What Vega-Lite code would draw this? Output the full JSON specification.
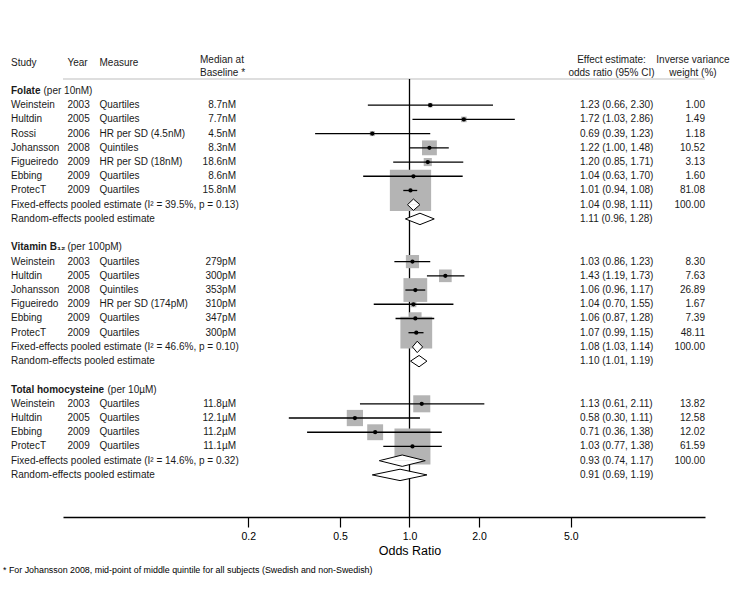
{
  "$schema": "https://vega.github.io/schema/vega-lite/v6.json",
  "width": 642,
  "height": 438,
  "autosize": {"type": "none"},
  "padding": {"left": 63, "top": 79, "right": 51, "bottom": 74},
  "background": "white",
  "config": {
    "view": {"stroke": null},
    "text": {"font": "Liberation Sans", "fontSize": 10, "color": "#1a1a1a", "baseline": "middle"}
  },
  "resolve": {"scale": {"y": "independent"}},
  "datasets": {
    "rows": [
      {"row": 0, "kind": "group", "study": "Folate", "unit": "(per 10nM)", "grp": "F"},
      {"row": 1, "kind": "study", "study": "Weinstein", "year": "2003", "measure": "Quartiles", "median": "8.7nM", "est": 1.23, "lci": 0.66, "uci": 2.30, "effect": "1.23 (0.66, 2.30)", "w": 1.00},
      {"row": 2, "kind": "study", "study": "Hultdin", "year": "2005", "measure": "Quartiles", "median": "7.7nM", "est": 1.72, "lci": 1.03, "uci": 2.86, "effect": "1.72 (1.03, 2.86)", "w": 1.49},
      {"row": 3, "kind": "study", "study": "Rossi", "year": "2006", "measure": "HR per SD (4.5nM)", "median": "4.5nM", "est": 0.69, "lci": 0.39, "uci": 1.23, "effect": "0.69 (0.39, 1.23)", "w": 1.18},
      {"row": 4, "kind": "study", "study": "Johansson", "year": "2008", "measure": "Quintiles", "median": "8.3nM", "est": 1.22, "lci": 1.00, "uci": 1.48, "effect": "1.22 (1.00, 1.48)", "w": 10.52},
      {"row": 5, "kind": "study", "study": "Figueiredo", "year": "2009", "measure": "HR per SD (18nM)", "median": "18.6nM", "est": 1.20, "lci": 0.85, "uci": 1.71, "effect": "1.20 (0.85, 1.71)", "w": 3.13},
      {"row": 6, "kind": "study", "study": "Ebbing", "year": "2009", "measure": "Quartiles", "median": "8.6nM", "est": 1.04, "lci": 0.63, "uci": 1.70, "effect": "1.04 (0.63, 1.70)", "w": 1.60},
      {"row": 7, "kind": "study", "study": "ProtecT", "year": "2009", "measure": "Quartiles", "median": "15.8nM", "est": 1.01, "lci": 0.94, "uci": 1.08, "effect": "1.01 (0.94, 1.08)", "w": 81.08},
      {"row": 8, "kind": "fixed", "study": "Fixed-effects pooled estimate (I² = 39.5%, p = 0.13)", "est": 1.04, "lci": 0.98, "uci": 1.11, "effect": "1.04 (0.98, 1.11)", "w": 100.00},
      {"row": 9, "kind": "random", "study": "Random-effects pooled estimate", "est": 1.11, "lci": 0.96, "uci": 1.28, "effect": "1.11 (0.96, 1.28)"},
      {"row": 11, "kind": "group", "study": "Vitamin B₁₂", "unit": "(per 100pM)", "grp": "B"},
      {"row": 12, "kind": "study", "study": "Weinstein", "year": "2003", "measure": "Quartiles", "median": "279pM", "est": 1.03, "lci": 0.86, "uci": 1.23, "effect": "1.03 (0.86, 1.23)", "w": 8.30},
      {"row": 13, "kind": "study", "study": "Hultdin", "year": "2005", "measure": "Quartiles", "median": "300pM", "est": 1.43, "lci": 1.19, "uci": 1.73, "effect": "1.43 (1.19, 1.73)", "w": 7.63},
      {"row": 14, "kind": "study", "study": "Johansson", "year": "2008", "measure": "Quintiles", "median": "353pM", "est": 1.06, "lci": 0.96, "uci": 1.17, "effect": "1.06 (0.96, 1.17)", "w": 26.89},
      {"row": 15, "kind": "study", "study": "Figueiredo", "year": "2009", "measure": "HR per SD (174pM)", "median": "310pM", "est": 1.04, "lci": 0.70, "uci": 1.55, "effect": "1.04 (0.70, 1.55)", "w": 1.67},
      {"row": 16, "kind": "study", "study": "Ebbing", "year": "2009", "measure": "Quartiles", "median": "347pM", "est": 1.06, "lci": 0.87, "uci": 1.28, "effect": "1.06 (0.87, 1.28)", "w": 7.39},
      {"row": 17, "kind": "study", "study": "ProtecT", "year": "2009", "measure": "Quartiles", "median": "300pM", "est": 1.07, "lci": 0.99, "uci": 1.15, "effect": "1.07 (0.99, 1.15)", "w": 48.11},
      {"row": 18, "kind": "fixed", "study": "Fixed-effects pooled estimate (I² = 46.6%, p = 0.10)", "est": 1.08, "lci": 1.03, "uci": 1.14, "effect": "1.08 (1.03, 1.14)", "w": 100.00},
      {"row": 19, "kind": "random", "study": "Random-effects pooled estimate", "est": 1.10, "lci": 1.01, "uci": 1.19, "effect": "1.10 (1.01, 1.19)"},
      {"row": 21, "kind": "group", "study": "Total homocysteine", "unit": "(per 10µM)", "grp": "T"},
      {"row": 22, "kind": "study", "study": "Weinstein", "year": "2003", "measure": "Quartiles", "median": "11.8µM", "est": 1.13, "lci": 0.61, "uci": 2.11, "effect": "1.13 (0.61, 2.11)", "w": 13.82},
      {"row": 23, "kind": "study", "study": "Hultdin", "year": "2005", "measure": "Quartiles", "median": "12.1µM", "est": 0.58, "lci": 0.30, "uci": 1.11, "effect": "0.58 (0.30, 1.11)", "w": 12.58},
      {"row": 24, "kind": "study", "study": "Ebbing", "year": "2009", "measure": "Quartiles", "median": "11.2µM", "est": 0.71, "lci": 0.36, "uci": 1.38, "effect": "0.71 (0.36, 1.38)", "w": 12.02},
      {"row": 25, "kind": "study", "study": "ProtecT", "year": "2009", "measure": "Quartiles", "median": "11.1µM", "est": 1.03, "lci": 0.77, "uci": 1.38, "effect": "1.03 (0.77, 1.38)", "w": 61.59},
      {"row": 26, "kind": "fixed", "study": "Fixed-effects pooled estimate (I² = 14.6%, p = 0.32)", "est": 0.93, "lci": 0.74, "uci": 1.17, "effect": "0.93 (0.74, 1.17)", "w": 100.00},
      {"row": 27, "kind": "random", "study": "Random-effects pooled estimate", "est": 0.91, "lci": 0.69, "uci": 1.19, "effect": "0.91 (0.69, 1.19)"}
    ],
    "vmap": [
      {"key": "lci", "up": "side", "down": "side"},
      {"key": "est", "up": "top", "down": "bottom"},
      {"key": "uci", "up": "side", "down": "side"}
    ]
  },
  "data": {"name": "rows"},
  "layer": [
    {
      "data": {"values": [{}]},
      "mark": {"type": "rule", "color": "#bdbdbd", "strokeWidth": 1},
      "encoding": {
        "y": {"datum": -0.84, "scale": {"domain": [-0.84, 29.96], "reverse": true, "nice": false, "zero": false}, "axis": null}
      }
    },
    {
      "data": {"values": [{}]},
      "mark": {"type": "rule", "color": "black", "strokeWidth": 1.3},
      "encoding": {
        "x": {"datum": 1, "scale": {"type": "log", "domain": [0.03153, 19.07], "nice": false}}
      }
    },
    {
      "transform": [{"filter": "datum.kind == 'study'"}],
      "mark": {"type": "square", "color": "#b4b4b4", "opacity": 1, "filled": true},
      "encoding": {
        "x": {"field": "est", "type": "quantitative", "scale": {"type": "log", "domain": [0.03153, 19.07], "nice": false}},
        "y": {"field": "row", "type": "quantitative", "scale": {"domain": [-0.84, 29.96], "reverse": true, "nice": false, "zero": false}, "axis": null},
        "size": {"field": "w", "type": "quantitative", "scale": {"domain": [0, 100], "range": [0, 2100]}, "legend": null}
      }
    },
    {
      "transform": [{"filter": "datum.kind == 'study'"}],
      "mark": {"type": "rule", "color": "black", "strokeWidth": 1.3},
      "encoding": {
        "x": {"field": "lci", "type": "quantitative", "scale": {"type": "log", "domain": [0.03153, 19.07], "nice": false}},
        "x2": {"field": "uci"},
        "y": {"field": "row", "type": "quantitative", "scale": {"domain": [-0.84, 29.96], "reverse": true, "nice": false, "zero": false}, "axis": null}
      }
    },
    {
      "transform": [{"filter": "datum.kind == 'study'"}],
      "mark": {"type": "circle", "color": "black", "opacity": 1, "size": 18},
      "encoding": {
        "x": {
          "field": "est", "type": "quantitative",
          "scale": {"type": "log", "domain": [0.03153, 19.07], "nice": false},
          "axis": {
            "values": [0.2, 0.5, 1, 2, 5], "format": ".1f", "title": "Odds Ratio", "grid": false,
            "domainColor": "black", "domainWidth": 1.6, "tickColor": "black", "tickWidth": 1.2, "tickSize": 10,
            "labelFont": "Liberation Sans", "labelFontSize": 10.5, "labelColor": "black", "labelPadding": 4,
            "titleFont": "Liberation Sans", "titleFontSize": 12.5, "titleFontWeight": "normal", "titleColor": "black",
            "titleX": 346.5, "titleY": 33, "titleBaseline": "middle"
          }
        },
        "y": {"field": "row", "type": "quantitative", "scale": {"domain": [-0.84, 29.96], "reverse": true, "nice": false, "zero": false}, "axis": null}
      }
    },
    {
      "transform": [
        {"filter": "datum.kind == 'fixed' || datum.kind == 'random'"},
        {"fold": ["lci", "est", "uci"], "as": ["key", "or"]},
        {"lookup": "key", "from": {"data": {"name": "vmap"}, "key": "key", "fields": ["up", "down"]}}
      ],
      "mark": {"type": "line", "fill": "white", "stroke": "black", "strokeWidth": 1},
      "encoding": {
        "x": {"field": "or", "type": "quantitative", "scale": {"type": "log", "domain": [0.03153, 19.07], "nice": false}},
        "y": {"field": "row", "type": "ordinal", "scale": {"type": "point", "domain": [0,1,2,3,4,5,6,7,8,9,10,11,12,13,14,15,16,17,18,19,20,21,22,23,24,25,26,27], "range": [11.945, 395.907], "padding": 0}, "axis": null},
        "yOffset": {"field": "up", "type": "nominal", "scale": {"type": "point", "domain": ["top", "side", "bottom"], "range": [-5.7, 5.7], "padding": 0}},
        "detail": {"field": "row", "type": "nominal"},
        "order": {"field": "or", "type": "quantitative"}
      }
    },
    {
      "transform": [
        {"filter": "datum.kind == 'fixed' || datum.kind == 'random'"},
        {"fold": ["lci", "est", "uci"], "as": ["key", "or"]},
        {"lookup": "key", "from": {"data": {"name": "vmap"}, "key": "key", "fields": ["up", "down"]}}
      ],
      "mark": {"type": "line", "fill": "white", "stroke": "black", "strokeWidth": 1},
      "encoding": {
        "x": {"field": "or", "type": "quantitative", "scale": {"type": "log", "domain": [0.03153, 19.07], "nice": false}},
        "y": {"field": "row", "type": "ordinal", "scale": {"type": "point", "domain": [0,1,2,3,4,5,6,7,8,9,10,11,12,13,14,15,16,17,18,19,20,21,22,23,24,25,26,27], "range": [11.945, 395.907], "padding": 0}, "axis": null},
        "yOffset": {"field": "down", "type": "nominal", "scale": {"type": "point", "domain": ["top", "side", "bottom"], "range": [-5.7, 5.7], "padding": 0}},
        "detail": {"field": "row", "type": "nominal"},
        "order": {"field": "or", "type": "quantitative"}
      }
    },
    {
      "transform": [{"filter": "datum.kind != 'group'"}],
      "mark": {"type": "text", "align": "left", "font": "Liberation Sans"},
      "encoding": {
        "text": {"field": "study"},
        "x": {"datum": 0.01877, "scale": {"type": "log", "domain": [0.03153, 19.07], "nice": false}},
        "y": {"field": "row", "type": "quantitative", "scale": {"domain": [-0.84, 29.96], "reverse": true, "nice": false, "zero": false}, "axis": null}
      }
    },
    {
      "transform": [{"filter": "datum.kind == 'group'"}],
      "mark": {"type": "text", "align": "left", "fontWeight": "bold", "font": "Liberation Sans"},
      "encoding": {
        "text": {"field": "study"},
        "x": {"datum": 0.01877, "scale": {"type": "log", "domain": [0.03153, 19.07], "nice": false}},
        "y": {"field": "row", "type": "quantitative", "scale": {"domain": [-0.84, 29.96], "reverse": true, "nice": false, "zero": false}, "axis": null}
      }
    },
    {
      "transform": [{"filter": "datum.grp == 'F'"}],
      "mark": {"type": "text", "align": "left", "font": "Liberation Sans"},
      "encoding": {
        "text": {"field": "unit"},
        "x": {"datum": 0.02596, "scale": {"type": "log", "domain": [0.03153, 19.07], "nice": false}},
        "y": {"field": "row", "type": "quantitative", "scale": {"domain": [-0.84, 29.96], "reverse": true, "nice": false, "zero": false}, "axis": null}
      }
    },
    {
      "transform": [{"filter": "datum.grp == 'B'"}],
      "mark": {"type": "text", "align": "left", "font": "Liberation Sans"},
      "encoding": {
        "text": {"field": "unit"},
        "x": {"datum": 0.03297, "scale": {"type": "log", "domain": [0.03153, 19.07], "nice": false}},
        "y": {"field": "row", "type": "quantitative", "scale": {"domain": [-0.84, 29.96], "reverse": true, "nice": false, "zero": false}, "axis": null}
      }
    },
    {
      "transform": [{"filter": "datum.grp == 'T'"}],
      "mark": {"type": "text", "align": "left", "font": "Liberation Sans"},
      "encoding": {
        "text": {"field": "unit"},
        "x": {"datum": 0.04916, "scale": {"type": "log", "domain": [0.03153, 19.07], "nice": false}},
        "y": {"field": "row", "type": "quantitative", "scale": {"domain": [-0.84, 29.96], "reverse": true, "nice": false, "zero": false}, "axis": null}
      }
    },
    {
      "transform": [{"filter": "datum.kind == 'study'"}],
      "mark": {"type": "text", "align": "left", "font": "Liberation Sans"},
      "encoding": {
        "text": {"field": "year"},
        "x": {"datum": 0.03297, "scale": {"type": "log", "domain": [0.03153, 19.07], "nice": false}},
        "y": {"field": "row", "type": "quantitative", "scale": {"domain": [-0.84, 29.96], "reverse": true, "nice": false, "zero": false}, "axis": null}
      }
    },
    {
      "transform": [{"filter": "datum.kind == 'study'"}],
      "mark": {"type": "text", "align": "left", "font": "Liberation Sans"},
      "encoding": {
        "text": {"field": "measure"},
        "x": {"datum": 0.04539, "scale": {"type": "log", "domain": [0.03153, 19.07], "nice": false}},
        "y": {"field": "row", "type": "quantitative", "scale": {"domain": [-0.84, 29.96], "reverse": true, "nice": false, "zero": false}, "axis": null}
      }
    },
    {
      "transform": [{"filter": "datum.kind == 'study'"}],
      "mark": {"type": "text", "align": "right", "font": "Liberation Sans"},
      "encoding": {
        "text": {"field": "median"},
        "x": {"datum": 0.17709, "scale": {"type": "log", "domain": [0.03153, 19.07], "nice": false}},
        "y": {"field": "row", "type": "quantitative", "scale": {"domain": [-0.84, 29.96], "reverse": true, "nice": false, "zero": false}, "axis": null}
      }
    },
    {
      "transform": [{"filter": "datum.kind != 'group'"}],
      "mark": {"type": "text", "align": "left", "font": "Liberation Sans"},
      "encoding": {
        "text": {"field": "effect"},
        "x": {"datum": 5.4805, "scale": {"type": "log", "domain": [0.03153, 19.07], "nice": false}},
        "y": {"field": "row", "type": "quantitative", "scale": {"domain": [-0.84, 29.96], "reverse": true, "nice": false, "zero": false}, "axis": null}
      }
    },
    {
      "transform": [{"filter": "isValid(datum.w)"}],
      "mark": {"type": "text", "align": "right", "font": "Liberation Sans"},
      "encoding": {
        "text": {"field": "w", "type": "quantitative", "format": ".2f"},
        "x": {"datum": 19.07, "scale": {"type": "log", "domain": [0.03153, 19.07], "nice": false}},
        "y": {"field": "row", "type": "quantitative", "scale": {"domain": [-0.84, 29.96], "reverse": true, "nice": false, "zero": false}, "axis": null}
      }
    },
    {
      "data": {"values": [{"label": "Study"}]},
      "mark": {"type": "text", "align": "left", "font": "Liberation Sans"},
      "encoding": {
        "text": {"field": "label"},
        "x": {"datum": 0.01877, "scale": {"type": "log", "domain": [0.03153, 19.07], "nice": false}},
        "y": {"datum": -1.99, "scale": {"domain": [-0.84, 29.96], "reverse": true, "nice": false, "zero": false}, "axis": null}
      }
    },
    {
      "data": {"values": [{"label": "Year"}]},
      "mark": {"type": "text", "align": "left", "font": "Liberation Sans"},
      "encoding": {
        "text": {"field": "label"},
        "x": {"datum": 0.03297, "scale": {"type": "log", "domain": [0.03153, 19.07], "nice": false}},
        "y": {"datum": -1.99, "scale": {"domain": [-0.84, 29.96], "reverse": true, "nice": false, "zero": false}, "axis": null}
      }
    },
    {
      "data": {"values": [{"label": "Measure"}]},
      "mark": {"type": "text", "align": "left", "font": "Liberation Sans"},
      "encoding": {
        "text": {"field": "label"},
        "x": {"datum": 0.04539, "scale": {"type": "log", "domain": [0.03153, 19.07], "nice": false}},
        "y": {"datum": -1.99, "scale": {"domain": [-0.84, 29.96], "reverse": true, "nice": false, "zero": false}, "axis": null}
      }
    },
    {
      "data": {"values": [{}]},
      "mark": {"type": "text", "align": "left", "font": "Liberation Sans", "text": ["Median at", "Baseline *"], "lineHeight": 13.2},
      "encoding": {
        "x": {"datum": 0.12369, "scale": {"type": "log", "domain": [0.03153, 19.07], "nice": false}},
        "y": {"datum": -2.17, "scale": {"domain": [-0.84, 29.96], "reverse": true, "nice": false, "zero": false}, "axis": null}
      }
    },
    {
      "data": {"values": [{}]},
      "mark": {"type": "text", "align": "center", "font": "Liberation Sans", "text": ["Effect estimate:", "odds ratio (95% CI)"], "lineHeight": 13.2},
      "encoding": {
        "x": {"datum": 7.504, "scale": {"type": "log", "domain": [0.03153, 19.07], "nice": false}},
        "y": {"datum": -2.17, "scale": {"domain": [-0.84, 29.96], "reverse": true, "nice": false, "zero": false}, "axis": null}
      }
    },
    {
      "data": {"values": [{}]},
      "mark": {"type": "text", "align": "center", "font": "Liberation Sans", "text": ["Inverse variance", "weight (%)"], "lineHeight": 13.2},
      "encoding": {
        "x": {"datum": 16.916, "scale": {"type": "log", "domain": [0.03153, 19.07], "nice": false}},
        "y": {"datum": -2.17, "scale": {"domain": [-0.84, 29.96], "reverse": true, "nice": false, "zero": false}, "axis": null}
      }
    },
    {
      "data": {"values": [{"note": "* For Johansson 2008, mid-point of middle quintile for all subjects (Swedish and non-Swedish)"}]},
      "mark": {"type": "text", "align": "left", "font": "Liberation Sans", "fontSize": 8.9, "color": "black"},
      "encoding": {
        "text": {"field": "note"},
        "x": {"datum": 0.017324, "scale": {"type": "log", "domain": [0.03153, 19.07], "nice": false}},
        "y": {"datum": 33.68, "scale": {"domain": [-0.84, 29.96], "reverse": true, "nice": false, "zero": false}, "axis": null}
      }
    }
  ]
}
